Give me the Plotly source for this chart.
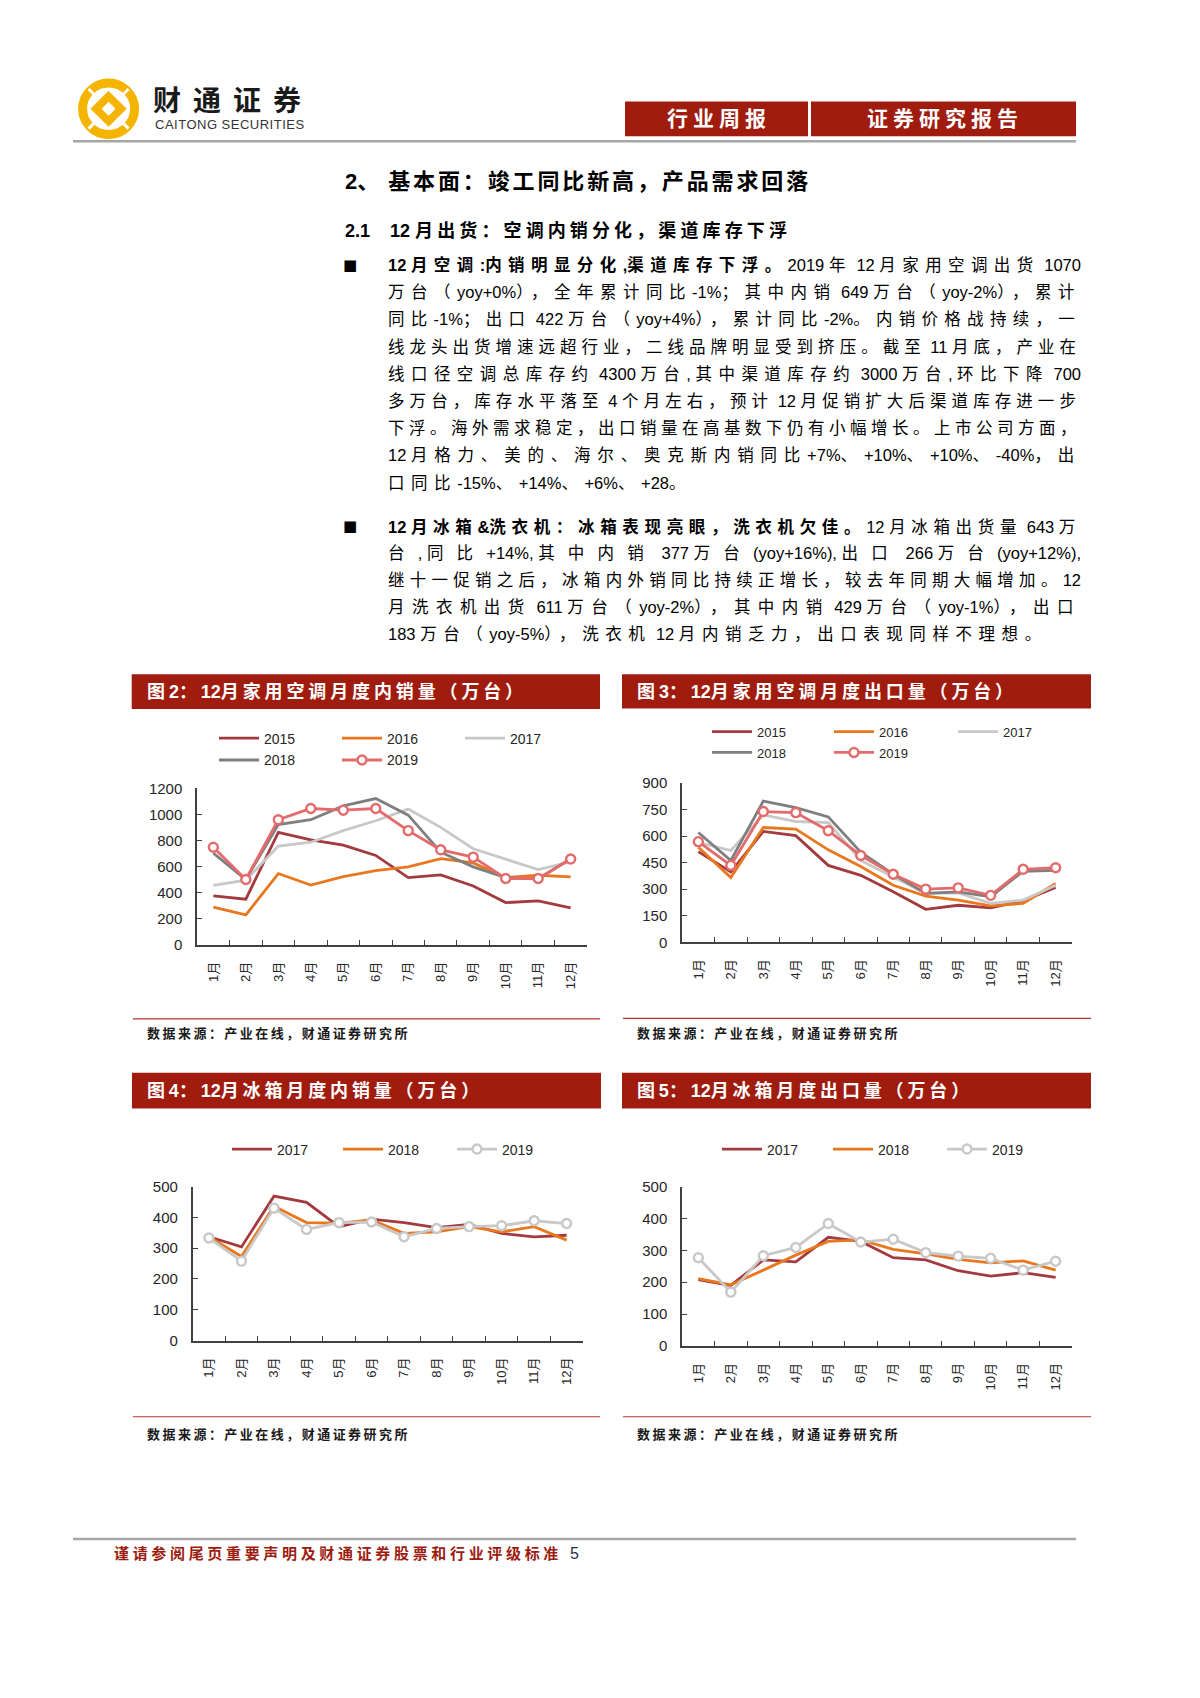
import json
import plotly.graph_objects as go

W, H = 1200, 1698
FONT = "Liberation Sans, Arial, Noto Sans CJK SC, sans-serif"

def px(x):
    return x / W

def py(y):
    return 1 - y / H

# ---------------- data ----------------
months = ["1月", "2月", "3月", "4月", "5月", "6月", "7月", "8月", "9月", "10月", "11月", "12月"]

# 图2 家用空调月度内销量（万台）
ac_dom_2015 = [375, 350, 863, 805, 765, 686, 516, 537, 451, 324, 337, 284]
ac_dom_2016 = [289, 230, 547, 458, 524, 570, 598, 661, 628, 516, 534, 522]
ac_dom_2017 = [456, 496, 757, 787, 876, 952, 1041, 901, 737, 658, 577, 636]
ac_dom_2018 = [704, 501, 922, 960, 1066, 1122, 995, 711, 598, 516, 504, 661]
ac_dom_2019 = [749, 501, 960, 1046, 1033, 1046, 876, 729, 673, 509, 509, 658]

# 图3 家用空调月度出口量（万台）
ac_exp_2015 = [512, 397, 626, 602, 434, 378, 285, 186, 209, 194, 235, 309]
ac_exp_2016 = [537, 365, 648, 639, 522, 428, 322, 261, 238, 205, 220, 332]
ac_exp_2017 = [564, 518, 719, 682, 676, 462, 369, 276, 279, 220, 238, 322]
ac_exp_2018 = [620, 462, 797, 760, 708, 509, 384, 276, 285, 257, 401, 406]
ac_exp_2019 = [568, 434, 738, 732, 630, 490, 384, 300, 307, 265, 412, 421]

# 图4 冰箱月度内销量（万台）
fr_dom_2017 = [337, 304, 469, 449, 370, 394, 383, 367, 377, 348, 337, 342]
fr_dom_2018 = [337, 273, 436, 383, 381, 392, 348, 353, 370, 353, 370, 326]
fr_dom_2019 = [333, 258, 430, 361, 383, 385, 337, 364, 370, 373, 389, 380]

# 图5 冰箱月度出口量（万台）
fr_exp_2017 = [208, 190, 270, 264, 341, 328, 277, 270, 236, 219, 230, 215]
fr_exp_2018 = [211, 192, 238, 285, 328, 333, 303, 289, 272, 261, 267, 238]
fr_exp_2019 = [277, 169, 283, 309, 384, 326, 335, 293, 282, 275, 238, 266]

# ---------------- texts ----------------
logo_cn = "财通证券"
logo_en = "CAITONG SECURITIES"
tag1 = "行业周报"
tag2 = "证券研究报告"
heading1 = "2、 基本面：竣工同比新高，产品需求回落"
heading2 = "2.1\u00a0\u00a0\u00a0\u00a012 月出货：空调内销分化，渠道库存下浮"
para1 = [
    [("12 月空调:内销明显分化,渠道库存下浮。", True), ("2019 年 12 月家用空调出货 1070", False)],
    [("万台（yoy+0%），全年累计同比-1%；其中内销 649 万台（yoy-2%），累计", False)],
    [("同比-1%；出口 422 万台（yoy+4%），累计同比-2%。内销价格战持续，一", False)],
    [("线龙头出货增速远超行业，二线品牌明显受到挤压。截至 11 月底，产业在", False)],
    [("线口径空调总库存约 4300 万台, 其中渠道库存约 3000 万台, 环比下降 700", False)],
    [("多万台，库存水平落至 4 个月左右，预计 12 月促销扩大后渠道库存进一步", False)],
    [("下浮。海外需求稳定，出口销量在高基数下仍有小幅增长。上市公司方面，", False)],
    [("12 月格力、美的、海尔、奥克斯内销同比+7%、+10%、+10%、-40%，出", False)],
    [("口同比-15%、+14%、+6%、+28。", False)],
]
para2 = [
    [("12 月冰箱&洗衣机：冰箱表现亮眼，洗衣机欠佳。", True), ("12 月冰箱出货量 643 万", False)],
    [("台, 同比+14%, 其中内销 377 万台(yoy+16%), 出口 266 万台(yoy+12%),", False)],
    [("继十一促销之后，冰箱内外销同比持续正增长，较去年同期大幅增加。12", False)],
    [("月洗衣机出货 611 万台（yoy-2%），其中内销 429 万台（yoy-1%），出口", False)],
    [("183 万台（yoy-5%），洗衣机 12 月内销乏力，出口表现同样不理想。", False)],
]
titles = ["图2：12月家用空调月度内销量（万台）", "图3：12月家用空调月度出口量（万台）",
          "图4：12月冰箱月度内销量（万台）", "图5：12月冰箱月度出口量（万台）"]
source = "数据来源：产业在线，财通证券研究所"
footer = "谨请参阅尾页重要声明及财通证券股票和行业评级标准"
page_no = "5"

# ---------------- colours ----------------
RED = "#9F1C0F"
GOLD = "#F4B400"
C_MAROON = "#A33A3E"
C_ORANGE = "#E8771E"
C_LGRAY = "#C8C8C8"
C_DGRAY = "#7F7F7F"
C_PINK = "#E46B6B"
AXC = "#404040"


def is_cjk(ch):
    o = ord(ch)
    return (0x2E80 <= o <= 0x9FFF) or (0xFF00 <= o <= 0xFFEF) or (0x3000 <= o <= 0x303F)


def esc(s):
    return s.replace("&", "&amp;").replace("<", "&lt;").replace(">", "&gt;")


def mk(text, ls):
    out, run, cur = [], "", None
    for ch in text:
        c = is_cjk(ch)
        if cur is None or c == cur:
            run += ch
        else:
            out.append((run, cur))
            run = ch
        cur = c
    if run:
        out.append((run, cur))
    s = ""
    for r, c in out:
        if c:
            s += '<span style="letter-spacing:%.2fpx">%s</span>' % (ls, esc(r))
        else:
            s += esc(r)
    return s


anns = []
JUST = []  # [index, target width]  (-1 => use average spacing)


def add_text(text, x, y, size, color="#000000", xanchor="left", yanchor="middle",
             family=FONT, justify=None):
    idx = len(anns)
    anns.append(dict(text=text, x=px(x), y=py(y), xref="paper", yref="paper",
                     xanchor=xanchor, yanchor=yanchor, showarrow=False, align="left",
                     font=dict(size=size, color=color, family=family)))
    if justify is not None:
        JUST.append([idx, justify])


shapes = []


def rect(x0, y0, x1, y1, fill):
    shapes.append(dict(type="rect", xref="paper", yref="paper", x0=px(x0), x1=px(x1),
                       y0=py(y1), y1=py(y0), fillcolor=fill,
                       line=dict(width=0, color=fill), layer="below"))


def hline(x0, x1, y, color, width):
    shapes.append(dict(type="line", xref="paper", yref="paper", x0=px(x0), x1=px(x1),
                       y0=py(y), y1=py(y), line=dict(color=color, width=width)))


# ---------------- header ----------------
cx, cy = 108.6, 100.8
R = 26
shapes.append(dict(type="circle", xref="paper", yref="paper", x0=px(cx - R), x1=px(cx + R),
                   y0=py(cy + R), y1=py(cy - R), line=dict(color=GOLD, width=9),
                   fillcolor="rgba(0,0,0,0)"))
d = 16
shapes.append(dict(type="path", xref="paper", yref="paper",
                   path="M %f %f L %f %f L %f %f L %f %f Z" % (
                       px(cx), py(cy - d), px(cx + d), py(cy), px(cx), py(cy + d), px(cx - d), py(cy)),
                   fillcolor=GOLD, line=dict(color=GOLD, width=3)))
d2 = 6.5
shapes.append(dict(type="path", xref="paper", yref="paper",
                   path="M %f %f L %f %f L %f %f L %f %f Z" % (
                       px(cx), py(cy - d2), px(cx + d2), py(cy), px(cx), py(cy + d2), px(cx - d2), py(cy)),
                   fillcolor="#FFFFFF", line=dict(color="#FFFFFF", width=1)))
g1, g2 = 20, 13
for sx, sy in ((-1, -1), (1, -1), (-1, 1), (1, 1)):
    shapes.append(dict(type="line", xref="paper", yref="paper",
                       x0=px(cx + sx * g1), y0=py(cy + sy * g1),
                       x1=px(cx + sx * g2), y1=py(cy + sy * g2),
                       line=dict(color="#FFFFFF", width=3)))

add_text("<b>" + mk(logo_cn, 12) + "</b>", 151, 93.5, 28, "#1A1A1A")
add_text('<span style="letter-spacing:0.5px">' + logo_en + '</span>', 153, 117, 13, "#333333")

rect(625, 93.5, 808, 128.5, RED)
rect(811, 93.5, 1076, 128.5, RED)
add_text("<b>" + mk(tag1, 5) + "</b>", 719, 111, 21, "#FFFFFF", xanchor="center")
add_text("<b>" + mk(tag2, 5) + "</b>", 945, 111, 21, "#FFFFFF", xanchor="center")
hline(73, 1076, 133.5, "#A6A6A6", 2.5)

# ---------------- headings and paragraphs ----------------
add_text("<b>" + mk(heading1, 3) + "</b>", 343, 174, 22, "#000000", justify=466)
add_text("<b>" + mk(heading2, 3) + "</b>", 343, 224, 18, "#000000", justify=446)


def line_markup(segs, ls):
    s = ""
    for t, b in segs:
        m = mk(t, ls)
        s += ("<b>" + m + "</b>") if b else m
    return s


X_TXT = 385.6
for i, segs in enumerate(para1):
    last = i == len(para1) - 1
    add_text(line_markup(segs, 4), X_TXT, 258.5 + 27.5 * i, 16.5, "#000000",
             justify=(-1 if last else 693))
for i, segs in enumerate(para2):
    last = i == len(para2) - 1
    add_text(line_markup(segs, 4), X_TXT, 522.3 + 27.3 * i, 16.5, "#000000",
             justify=(-1 if last else 693))
add_text("■", 350, 258.5, 15, "#000000", xanchor="center", family="DejaVu Sans")
add_text("■", 350, 522.3, 15, "#000000", xanchor="center", family="DejaVu Sans")

# ---------------- chart frames ----------------
panels = [
    dict(bar=(131.7, 672, 600, 707), tx=145, tw=380, src_y=1035, src_x=145, line_y=1020, lx=(133, 600)),
    dict(bar=(622, 672, 1091, 706.5), tx=635, tw=380, src_y=1035, src_x=635, line_y=1019.5, lx=(623, 1091)),
    dict(bar=(132, 1074.5, 601, 1110.5), tx=145, tw=336, src_y=1439.5, src_x=145, line_y=1422, lx=(133, 600)),
    dict(bar=(622, 1074.5, 1091, 1110.5), tx=635, tw=336, src_y=1439.5, src_x=635, line_y=1422, lx=(623, 1091)),
]
for p, t in zip(panels, titles):
    x0, y0, x1, y1 = p["bar"]
    rect(x0, y0, x1, y1, RED)
    add_text("<b>" + mk(t, 1) + "</b>", p["tx"], (y0 + y1) / 2, 18, "#FFFFFF", justify=p["tw"])
    hline(p["lx"][0], p["lx"][1], p["line_y"], "#B5322A", 1.2)
    add_text("<b>" + mk(source, 1) + "</b>", p["src_x"], p["src_y"], 13, "#1A1A1A", justify=263)

# ---------------- footer ----------------
hline(73, 1076, 1545.5, "#A6A6A6", 2.5)
add_text("<b>" + mk(footer, 1.5) + "</b>", 112, 1560.5, 15, "#9C1C10", justify=448)
add_text(page_no, 568, 1560.5, 16, "#1F2D4D")

# ---------------- charts ----------------
axes_geo = [
    dict(x=(197.1, 586.9), y=(945.3, 787.3), rng=1200, dt=200),
    dict(x=(682.1, 1071.9), y=(942.7, 781.7), rng=900, dt=150),
    dict(x=(192.7, 582.9), y=(1345.0, 1189.5), rng=500, dt=100),
    dict(x=(682.1, 1071.9), y=(1350.5, 1189.5), rng=500, dt=100),
]

series = [
    # (panel, name, values, colour, markers, legend line start x, legend y, legend font)
    (0, "2015", ac_dom_2015, C_MAROON, False, 219, 737, 14),
    (0, "2016", ac_dom_2016, C_ORANGE, False, 342, 737, 14),
    (0, "2017", ac_dom_2017, C_LGRAY, False, 465, 737, 14),
    (0, "2018", ac_dom_2018, C_DGRAY, False, 219, 759, 14),
    (0, "2019", ac_dom_2019, C_PINK, True, 342, 759, 14),
    (1, "2015", ac_exp_2015, C_MAROON, False, 712, 730, 13),
    (1, "2016", ac_exp_2016, C_ORANGE, False, 834, 730, 13),
    (1, "2017", ac_exp_2017, C_LGRAY, False, 958, 730, 13),
    (1, "2018", ac_exp_2018, C_DGRAY, False, 712, 751, 13),
    (1, "2019", ac_exp_2019, C_PINK, True, 834, 751, 13),
    (2, "2017", fr_dom_2017, C_MAROON, False, 232, 1152, 14),
    (2, "2018", fr_dom_2018, C_ORANGE, False, 343, 1152, 14),
    (2, "2019", fr_dom_2019, C_LGRAY, True, 457, 1152, 14),
    (3, "2017", fr_exp_2017, C_MAROON, False, 722, 1152, 14),
    (3, "2018", fr_exp_2018, C_ORANGE, False, 833, 1152, 14),
    (3, "2019", fr_exp_2019, C_LGRAY, True, 947, 1152, 14),
]

fig = go.Figure()
legends = {}
for k, (pi, name, vals, col, mark, lx, ly, lfs) in enumerate(series):
    lname = "legend" if k == 0 else "legend%d" % (k + 1)
    sfx = "" if pi == 0 else str(pi + 1)
    fig.add_trace(go.Scatter(
        x=months, y=vals, name=name, mode="lines+markers" if mark else "lines",
        line=dict(color=col, width=2.8),
        marker=dict(symbol="circle", size=9, color="#FFFFFF", line=dict(color=col, width=2.4)),
        xaxis="x" + sfx, yaxis="y" + sfx, legend=lname, showlegend=True, hoverinfo="skip"))
    legends[lname] = dict(x=px(lx - 5), y=py(ly), xanchor="left", yanchor="middle",
                          orientation="v", bgcolor="rgba(0,0,0,0)", borderwidth=0,
                          itemwidth=40,
                          font=dict(size=lfs, color="#262626", family=FONT))

layout_axes = {}
for i, g in enumerate(axes_geo):
    sfx = "" if i == 0 else str(i + 1)
    layout_axes["xaxis" + sfx] = dict(
        domain=[px(g["x"][0]), px(g["x"][1])], anchor="y" + sfx, type="category",
        categoryorder="array", categoryarray=months, range=[-0.5, 11.5],
        tickson="boundaries", ticks="inside", ticklen=5, tickwidth=1.2, tickcolor=AXC,
        showline=True, linecolor=AXC, linewidth=1.6, showgrid=False, zeroline=False,
        tickangle=-90, ticklabelstandoff=10,
        tickfont=dict(size=13, color="#262626", family=FONT), fixedrange=True)
    layout_axes["yaxis" + sfx] = dict(
        domain=[py(g["y"][0]), py(g["y"][1])], anchor="x" + sfx, range=[0, g["rng"]],
        dtick=g["dt"], tick0=0, ticks="inside", ticklen=5, tickwidth=1.2, tickcolor=AXC,
        showline=True, linecolor=AXC, linewidth=1.6, showgrid=False, zeroline=False,
        ticklabelstandoff=10,
        tickfont=dict(size=15, color="#262626", family=FONT), fixedrange=True)

fig.update_layout(
    width=W, height=H, margin=dict(l=0, r=0, t=0, b=0),
    paper_bgcolor="#FFFFFF", plot_bgcolor="rgba(0,0,0,0)",
    font=dict(family=FONT, color="#000000"),
    annotations=anns, shapes=shapes, hovermode=False,
    **layout_axes, **legends)

js = """
document.body.style.margin = '0';
document.body.style.overflow = 'hidden';
var gd = document.getElementById('{plot_id}');
var J = %s;
function spansOf(t){
  return Array.prototype.filter.call(t.querySelectorAll('tspan'), function(s){ return s.style && s.style.letterSpacing; });
}
function textOf(i){
  var g = gd.querySelector('g.annotation[data-index="' + i + '"]');
  if(!g) return null;
  return g.querySelector('text.annotation-text');
}
var acc = 0, cnt = 0;
J.forEach(function(p){
  if(p[1] < 0) return;
  var t = textOf(p[0]); if(!t) return;
  var sp = spansOf(t); var n = 0;
  sp.forEach(function(s){ n += s.textContent.length; });
  if(!n) return;
  for(var it = 0; it < 3; it++){
    var w = t.getBBox().width;
    var d = (p[1] - w) / n;
    sp.forEach(function(s){ var v = parseFloat(s.style.letterSpacing) || 0; s.style.letterSpacing = Math.max(v + d, -1) + 'px'; });
  }
  if(p[1] > 600){ acc += parseFloat(sp[sp.length-1].style.letterSpacing) || 0; cnt++; }
});
if(cnt){
  var avg = acc / cnt;
  J.forEach(function(p){
    if(p[1] >= 0) return;
    var t = textOf(p[0]); if(!t) return;
    spansOf(t).forEach(function(s){ s.style.letterSpacing = avg + 'px'; });
  });
}
""" % json.dumps(JUST)

fig.write_html("out.html", config={"displayModeBar": False}, post_script=js)
